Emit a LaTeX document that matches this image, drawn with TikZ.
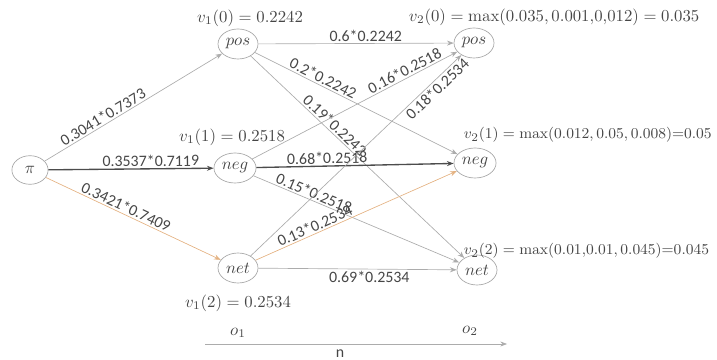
\documentclass[tikz,border=0pt]{standalone}
\usepackage[no-math]{fontspec}
\setmainfont{Carlito}
\usetikzlibrary{arrows.meta, shapes.geometric}
\definecolor{tan}{RGB}{228,178,130}
\definecolor{ink}{RGB}{70,70,70}

\begin{document}
\begin{tikzpicture}[x=0.021cm, y=-0.021cm,
        state/.style={ellipse, draw=gray!70, minimum width=0.84cm, minimum height=0.63cm, inner sep=1pt, text=ink},
        edge/.style={draw=gray!65, -{Stealth[length=4pt,width=3pt]}},
        strong/.style={edge, draw=black!70, line width=0.8pt},
        warm/.style={edge, draw=tan},
        lab/.style={font=\fontsize{9.5}{10}\selectfont, text=ink, sloped, above, inner sep=1pt},
        val/.style={text=ink, font=\fontsize{10}{12}\selectfont},
        valsmall/.style={val, font=\fontsize{9.3}{11}\selectfont}]
        \useasboundingbox (0,0) rectangle (717,360);

        % Draw nodes
        \node[state, minimum width=0.76cm, minimum height=0.6cm] (pi) at (30,170) {$\pi$};
        \node[state] (pos1) at (238,44) {$pos$};
        \node[state] (neg1) at (235,168) {$neg$};
        \node[state] (net1) at (238,268) {$net$};
        \node[state] (pos2) at (474,43) {$pos$};
        \node[state] (neg2) at (475,163) {$neg$};
        \node[state] (net2) at (477,270) {$net$};

        % Draw connections
        \draw[edge] (pi) -- (pos1) node[lab, pos=0.35] {0.3041*0.7373};
        \draw[strong] (pi) -- (neg1) node[lab, pos=0.62] {0.3537*0.7119};
        \draw[warm] (pi) -- (net1) node[lab, pos=0.44] {0.3421*0.7409};

        \draw[edge] (pos1) -- (pos2) node[lab, pos=0.55] {0.6*0.2242};
        \draw[edge] (pos1) -- (neg2) node[lab, pos=0.32] {0.2*0.2242};
        \draw[edge] (pos1) -- (net2) node[lab, pos=0.37] {0.19*0.2242};

        \draw[edge] (neg1) -- (pos2) node[lab, pos=0.76] {0.16*0.2518};
        \draw[strong] (neg1) -- (neg2) node[lab, pos=0.36] {0.68*0.2518};
        \draw[edge] (neg1) -- (net2) node[lab, pos=0.28] {0.15*0.2518};

        \draw[edge] (net1) -- (pos2) node[lab, pos=0.86, below] {0.18*0.2534};
        \draw[warm] (net1) -- (neg2) node[lab, pos=0.31] {0.13*0.2534};
        \draw[edge] (net1) -- (net2) node[lab, pos=0.56, below] {0.69*0.2534};

        % Labels
        \node[val] (v10) at (250,18) {$v_1(0) = 0.2242$};
        \node[val] (v11) at (232,137) {$v_1(1) = 0.2518$};
        \node[val] (v12) at (238,303) {$v_1(2) = 0.2534$};
        \node[val, anchor=west] (v20) at (403,17) {$v_2(0) = \max(0.035, 0.001{,}0{,}012) = 0.035$};
        \node[valsmall, anchor=west] (v21) at (458,135) {$v_2(1) = \max(0.012, 0.05, 0.008){=}0.05$};
        \node[valsmall, anchor=west] (v22) at (458,251) {$v_2(2) = \max(0.01{,}0.01, 0.045){=}0.045$};

        % Time axis
        \coordinate (ax1) at (205,344);
        \coordinate (ax2) at (507,344);
        \draw[edge] (ax1) -- (ax2);
        \node[val] (o1) at (238,333) {$o_1$};
        \node[val] (o2) at (470,331) {$o_2$};
        \node[val, font=\fontsize{9.5}{10}\selectfont] (n) at (340,354) {n};
    \end{tikzpicture}
\end{document}
